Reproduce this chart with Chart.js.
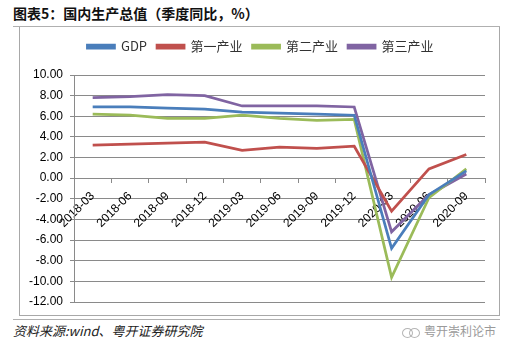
<!DOCTYPE html>
<html>
<head>
<meta charset="utf-8">
<script src="https://cdn.jsdelivr.net/npm/chart.js@4.4.0/dist/chart.umd.min.js"></script>
<style>
    body {
        margin: 0;
        width: 513px;
        height: 352px;
        background: #ffffff;
        position: relative;
        overflow: hidden;
        font-family: "Noto Sans CJK SC", sans-serif;
    }
    .title {
        position: absolute;
        left: 13px;
        top: 4px;
        font-size: 14px;
        font-weight: bold;
        color: #111;
        line-height: 18px;
    }
    .rule {
        position: absolute;
        left: 13px;
        width: 487px;
        height: 1px;
        background: #b0b0b0;
    }
    .frame {
        position: absolute;
        left: 19px;
        top: 27px;
        width: 479px;
        height: 288px;
        border: 1px solid #a8a8a8;
        border-top: none;
    }
    .source {
        position: absolute;
        left: 13px;
        top: 321px;
        font-size: 13px;
        font-style: italic;
        color: #222;
    }
    .mark {
        position: absolute;
        left: 402px;
        top: 322px;
        font-size: 12px;
        color: #9a9a9a;
    }
    .mark i {
        display: inline-block;
        width: 9px;
        height: 8px;
        border: 1px solid #b5b5b5;
        border-radius: 50%;
        margin-right: -4px;
        vertical-align: middle;
    }
    .mark span {
        margin-left: 8px;
    }
    #wrap {
        position: absolute;
        left: 0;
        top: 0;
        width: 513px;
        height: 352px;
    }
</style>
</head>
<body>
<div class="title">图表5：国内生产总值（季度同比，%）</div>
<div class="rule" style="top: 26px;"></div>
<div class="frame"></div>
<div class="rule" style="top: 319px;"></div>
<div class="source">资料来源:wind、粤开证券研究院</div>
<div class="mark"><i></i><i></i><span>粤开崇利论市</span></div>
<div id="wrap"><canvas id="gdpChart"></canvas></div>

<script>
const quarters = ["2018-03", "2018-06", "2018-09", "2018-12", "2019-03", "2019-06",
    "2019-09", "2019-12", "2020-03", "2020-06", "2020-09"];
const seriesNames = ["GDP", "第一产业", "第二产业", "第三产业"];
const gdp = [6.9, 6.9, 6.8, 6.7, 6.4, 6.3, 6.2, 6.1, -6.8, -1.6, 0.7];
const primaryIndustry = [3.2, 3.3, 3.4, 3.5, 2.7, 3.0, 2.9, 3.1, -3.2, 0.9, 2.3];
const secondaryIndustry = [6.2, 6.1, 5.8, 5.8, 6.1, 5.8, 5.6, 5.7, -9.6, -1.9, 0.9];
const tertiaryIndustry = [7.8, 7.9, 8.1, 8.0, 7.0, 7.0, 7.0, 6.9, -5.2, -1.6, 0.4];
const yMin = -12;
const yMax = 10;
const yStep = 2;

const colors = ["#4a7ebb", "#c0504d", "#9bbb59", "#8064a2"];
const seriesValues = [gdp, primaryIndustry, secondaryIndustry, tertiaryIndustry];

// extra room under the legend, and nudge it right to sit over the frame
const legendTweak = {
    id: "legendTweak",
    afterInit(chart) {
        const fit = chart.legend.fit;
        chart.legend.fit = function () {
            fit.call(this);
            this.height += 12;
        };
    },
    afterLayout(chart) {
        chart.legend.left += 8;
        chart.legend.right += 8;
    },
};

function renderChart() {
    const chartCanvas = document.getElementById("gdpChart");

    new Chart(chartCanvas, {
        type: "line",
        data: {
            labels: quarters,
            datasets: seriesNames.map((name, i) => ({
                label: name,
                data: seriesValues[i],
                borderColor: colors[i],
                backgroundColor: colors[i],
                borderWidth: 2.75,
                pointRadius: 0,
                tension: 0,
            })),
        },
        options: {
            responsive: true,
            maintainAspectRatio: false,
            animation: false,
            layout: {
                padding: { left: 20, right: 28, top: 30, bottom: 50 },
            },
            plugins: {
                legend: {
                    position: "top",
                    labels: {
                        boxWidth: 27,
                        boxHeight: 3,
                        padding: 10,
                        color: "#333",
                        font: { family: "Noto Sans CJK SC", size: 13 },
                    },
                },
                tooltip: { enabled: false },
            },
            scales: {
                x: {
                    position: { y: 0 },
                    offset: true,
                    afterFit(scale) {
                        scale.height = 0;
                    },
                    grid: {
                        offset: true,
                        drawOnChartArea: false,
                        drawTicks: true,
                        tickLength: 4,
                        color: "#8a8a8a",
                    },
                    border: { color: "#8a8a8a" },
                    ticks: {
                        autoSkip: false,
                        minRotation: 45,
                        maxRotation: 45,
                        padding: 7,
                        color: "#000",
                        font: { family: "Liberation Sans", size: 12 },
                    },
                },
                y: {
                    min: yMin,
                    max: yMax,
                    afterFit(scale) {
                        scale.width = 54;
                    },
                    grid: {
                        color: "#8a8a8a",
                        tickLength: 4,
                    },
                    border: { color: "#8a8a8a" },
                    ticks: {
                        stepSize: yStep,
                        padding: 7,
                        color: "#000",
                        font: { family: "Liberation Sans", size: 12 },
                        callback: (value) => value.toFixed(2),
                    },
                },
            },
        },
        plugins: [legendTweak],
    });
}

renderChart();
</script>
</body>
</html>
